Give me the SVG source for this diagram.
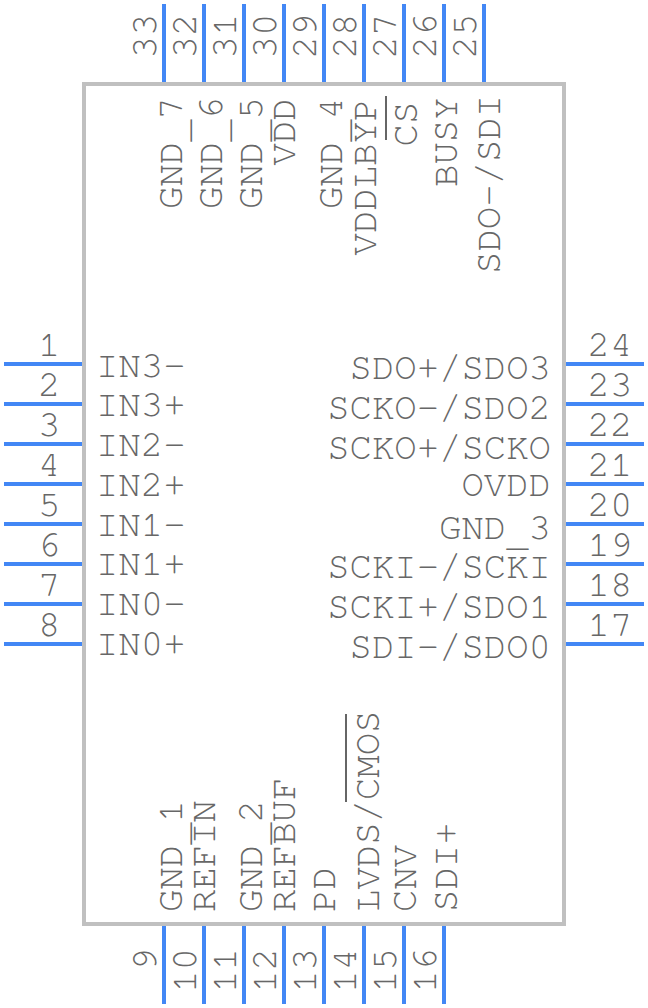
<svg xmlns="http://www.w3.org/2000/svg" width="648" height="1008" viewBox="0 0 648 1008">
<style>
.p{stroke:#4287f5;stroke-width:4;fill:none}
.o{stroke:#666;stroke-width:2;fill:none}
text{font-family:"FreeMono","Liberation Mono",monospace;font-size:37.3px;fill:#666;opacity:.99}
.e{text-anchor:end}
</style>
<rect width="648" height="1008" fill="#fff"/>
<g id="body">
<rect x="84" y="84" width="480" height="840" fill="none" stroke="#c0c0c0" stroke-width="4"/>
<text x="96" y="376.5">IN3-</text><text x="96" y="416">IN3+</text><text x="96" y="456">IN2-</text><text x="96" y="495.5">IN2+</text><text x="96" y="535.5">IN1-</text><text x="96" y="575">IN1+</text><text x="96" y="615">IN0-</text><text x="96" y="654.5">IN0+</text>
<g class="e"><text x="551" y="379">SDO+/SDO3</text><text x="551" y="419">SCKO-/SDO2</text><text x="551" y="459">SCKO+/SCKO</text><text x="551" y="495.5">OVDD</text><text x="551" y="539">GND<tspan dy="7">_</tspan><tspan dy="-7">3</tspan></text><text x="551" y="578">SCKI-/SCKI</text><text x="551" y="618">SCKI+/SDO1</text><text x="551" y="658">SDI-/SDO0</text></g>
<text transform="translate(181.5,209) rotate(-90)">GND<tspan dy="6">_</tspan><tspan dy="-6">7</tspan></text>
<text transform="translate(221.5,209) rotate(-90)">GND<tspan dy="6">_</tspan><tspan dy="-6">6</tspan></text>
<text transform="translate(261.5,209) rotate(-90)">GND<tspan dy="6">_</tspan><tspan dy="-6">5</tspan></text>
<text transform="translate(295,165.5) rotate(-90)">VDD</text>
<text transform="translate(341.5,209) rotate(-90)">GND<tspan dy="6">_</tspan><tspan dy="-6">4</tspan></text>
<text transform="translate(376,255.5) rotate(-90)">VDDLBYP</text>
<text transform="translate(416.5,146.5) rotate(-90)">CS</text>
<text transform="translate(456.5,187) rotate(-90)">BUSY</text>
<text transform="translate(500,274) rotate(-90)">SDO-/SDI</text>
<text transform="translate(181.5,912) rotate(-90)">GND<tspan dy="6">_</tspan><tspan dy="-6">1</tspan></text>
<text transform="translate(215,912) rotate(-90)">REFIN</text>
<text transform="translate(261.5,912) rotate(-90)">GND<tspan dy="6">_</tspan><tspan dy="-6">2</tspan></text>
<text transform="translate(295,912) rotate(-90)">REFBUF</text>
<text transform="translate(335,912) rotate(-90)">PD</text>
<text transform="translate(379,912) rotate(-90)">LVDS/CMOS</text>
<text transform="translate(416,912) rotate(-90)">CNV</text>
<text transform="translate(456.5,912) rotate(-90)">SDI+</text>
<path class="o" d="M386 96V140M346 714V802"/>
</g>
<g id="connectors">
<path class="p" d="M4 364H82M4 404H82M4 444H82M4 484H82M4 524H82M4 564H82M4 604H82M4 644H82"/>
<path class="p" d="M566 364H644M566 404H644M566 444H644M566 484H644M566 524H644M566 564H644M566 604H644M566 644H644"/>
<path class="p" d="M164 4V82M204 4V82M244 4V82M284 4V82M324 4V82M364 4V82M404 4V82M444 4V82M484 4V82"/>
<path class="p" d="M164 926V1004M204 926V1004M244 926V1004M284 926V1004M324 926V1004M364 926V1004M404 926V1004M444 926V1004"/>
</g>
<g id="pin-numbers">
<g class="e"><text x="60.5" y="356">1</text><text x="60.5" y="396">2</text><text x="60.5" y="436">3</text><text x="60.5" y="476">4</text><text x="60.5" y="516">5</text><text x="60.5" y="556">6</text><text x="60.5" y="596">7</text><text x="60.5" y="636">8</text></g>
<text x="587.5" y="356">24</text><text x="587.5" y="396">23</text><text x="587.5" y="436">22</text><text x="587.5" y="476">21</text><text x="587.5" y="516">20</text><text x="587.5" y="556">19</text><text x="587.5" y="596">18</text><text x="587.5" y="636">17</text>
<text transform="translate(156,58.5) rotate(-90)">33</text><text transform="translate(196,58.5) rotate(-90)">32</text><text transform="translate(236,58.5) rotate(-90)">31</text><text transform="translate(276,58.5) rotate(-90)">30</text><text transform="translate(316,58.5) rotate(-90)">29</text><text transform="translate(356,58.5) rotate(-90)">28</text><text transform="translate(396,58.5) rotate(-90)">27</text><text transform="translate(436,58.5) rotate(-90)">26</text><text transform="translate(476,58.5) rotate(-90)">25</text>
<text class="e" transform="translate(156,948) rotate(-90)">9</text><text class="e" transform="translate(196,948) rotate(-90)">10</text><text class="e" transform="translate(236,948) rotate(-90)">11</text><text class="e" transform="translate(276,948) rotate(-90)">12</text><text class="e" transform="translate(316,948) rotate(-90)">13</text><text class="e" transform="translate(356,948) rotate(-90)">14</text><text class="e" transform="translate(396,948) rotate(-90)">15</text><text class="e" transform="translate(436,948) rotate(-90)">16</text>
</g>
</svg>
